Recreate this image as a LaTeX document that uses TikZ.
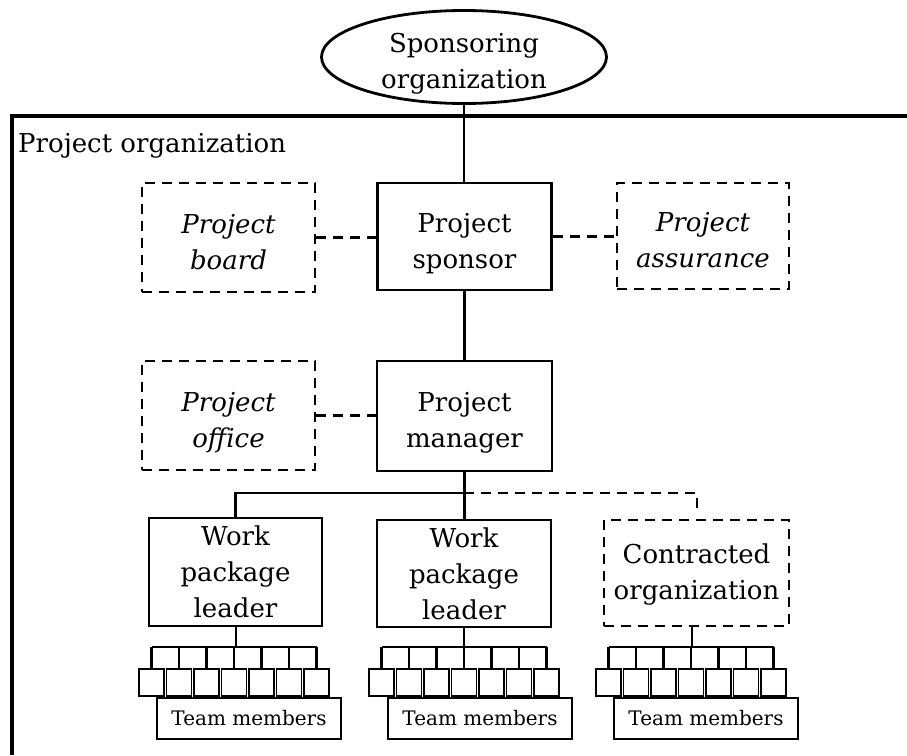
\documentclass[tikz,border=0pt]{standalone}
\usepackage{fontspec}
\setmainfont{DejaVu Serif}
\usetikzlibrary{shapes.geometric}
\begin{document}
\begin{tikzpicture}[x=1pt,y=-1pt,
  lbl/.style={font=\fontsize{26}{36}\selectfont, align=center},
  ilbl/.style={font=\fontsize{26}{36}\selectfont\itshape, align=center},
  two/.style={text height=69pt, text depth=6pt},
  three/.style={text height=91pt, text depth=0pt},
  solidbox/.style={draw, line width=2.8pt, inner sep=0pt, fill=white},
  dashbox/.style={solidbox, dash pattern=on 10pt off 7pt},
  conn/.style={line width=2.6pt},
  dconn/.style={line width=2.6pt, dash pattern=on 10pt off 7pt},
  sq/.style={draw, line width=1.6pt, minimum width=25pt, minimum height=27pt, inner sep=0pt, fill=white},
  team/.style={draw, line width=1.5pt, minimum width=184pt, minimum height=41pt, inner sep=0pt, fill=white, font=\fontsize{20}{24}\selectfont},
]
\useasboundingbox (0,0) rectangle (907,755);
\fill[white] (0,0) rectangle (907,755);

% project organization frame
\draw[line width=3.2pt] (907,116) -- (12,116) -- (12,755);
\node[lbl, anchor=base west, inner sep=0pt] (porg) at (18,152) {Project organization};

% sponsoring organization
\node[ellipse, draw, line width=2.8pt, minimum width=285pt, minimum height=93pt, inner sep=0pt] (spons) at (464,57) {};
\node[lbl, two, inner sep=0pt] (sponst) at (spons.center) {Sponsoring\\organization};

% top tier
\node[solidbox, lbl, two, minimum width=174pt, minimum height=107pt] (psp) at (464.5,236.5) {Project\\sponsor};
\node[dashbox, ilbl, two, minimum width=173pt, minimum height=109pt] (pboard) at (228.5,237.5) {Project\\board};
\node[dashbox, ilbl, two, minimum width=172pt, minimum height=106pt] (passur) at (703,236) {Project\\assurance};

% second tier
\node[solidbox, lbl, two, minimum width=175pt, minimum height=110pt] (pman) at (464.5,416) {Project\\manager};
\node[dashbox, ilbl, two, minimum width=173pt, minimum height=109pt] (poffice) at (228.5,415.5) {Project\\office};

% leaders
\node[solidbox, lbl, three, minimum width=173pt, minimum height=108pt] (l1) at (235.5,572) {Work\\package\\leader};
\node[solidbox, lbl, three, minimum width=174pt, minimum height=107pt] (l2) at (464,573.5) {Work\\package\\leader};
\node[dashbox, lbl, text height=58pt, text depth=6pt, minimum width=185pt, minimum height=106pt] (l3) at (696.5,573) {Contracted\\organization};

% connectors
\draw[conn] (spons.south) -- (spons.south |- psp.north);
\draw[dconn] (pboard.east) -- (pboard.east -| psp.west);
\draw[dconn] (psp.east) -- (psp.east -| passur.west);
\draw[conn] (psp.south) -- (psp.south |- pman.north);
\draw[dconn] (poffice.east) -- (poffice.east -| pman.west);
\coordinate (j) at (464,493);
\coordinate (cd) at (697,511);
\draw[conn] (pman.south) -- (pman.south |- l2.north);
\draw[conn] (j) -| (l1.north);
\draw[dconn] (j) -| (cd);

% team members
\foreach \g/\x/\sx/\tx in {1/236/234/249, 2/464/464/480, 3/692/691/706} {
  \coordinate (b\g) at (\x,647);
  \draw[conn] (l\g.south -| b\g) -- (b\g);
  \foreach \k in {1,...,7} {
    \node[sq] (s\g\k) at ({\sx+(\k-4)*27.5},682.5) {};
    \draw[conn] (s\g\k.north |- b\g) -- (s\g\k.north);
  }
  \draw[conn] (s\g1.north |- b\g) -- (s\g7.north |- b\g);
  \node[team] (t\g) at (\tx,718.5) {Team members};
}
\end{tikzpicture}
\end{document}
